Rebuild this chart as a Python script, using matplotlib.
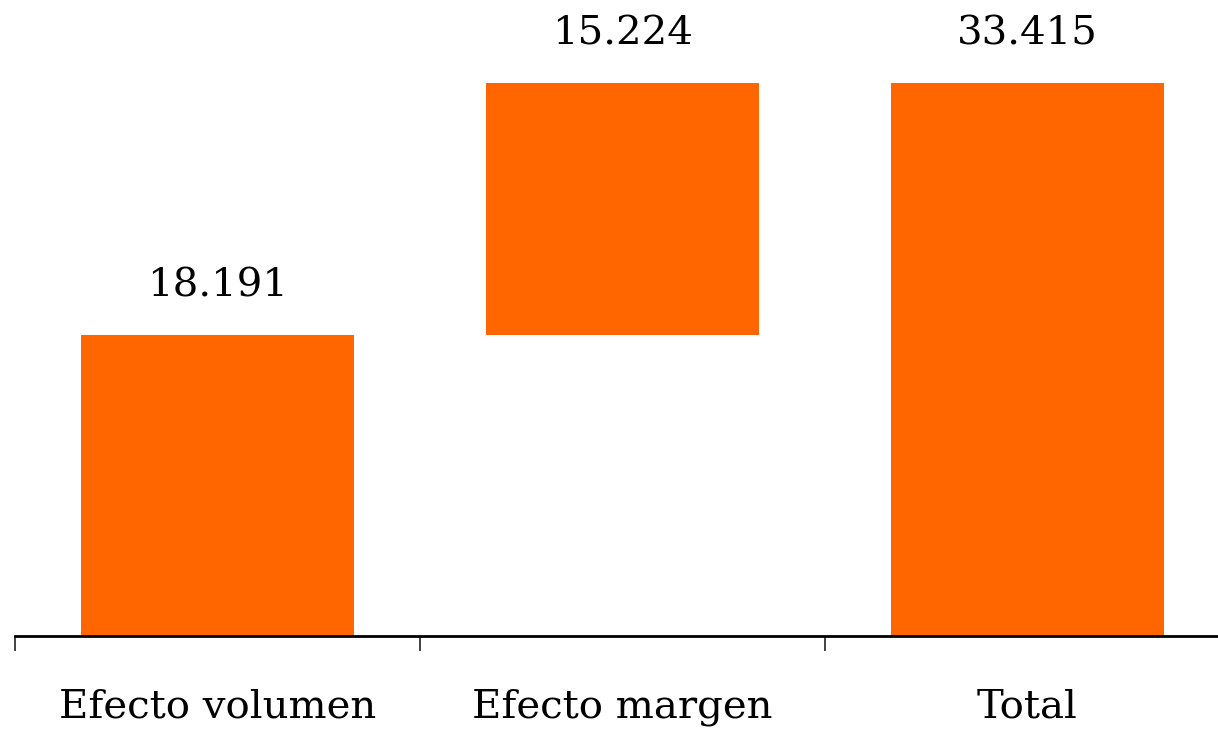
#!/usr/bin/env python3
"""Waterfall: efecto volumen + efecto margen = total."""
import matplotlib
matplotlib.use("Agg")
import matplotlib.pyplot as plt

categories = ["Efecto volumen", "Efecto margen", "Total"]
values = [18.191, 15.224, 33.415]
bottoms = [0.0, 18.191, 0.0]
value_labels = ["18.191", "15.224", "33.415"]

ORANGE = "#FF6600"

fig = plt.figure(figsize=(12.18, 7.31), dpi=100)
ax = fig.add_axes([15 / 1218, 95 / 731, 1215 / 1218, 636 / 731])

xs = list(range(len(categories)))
ax.bar(xs, values, bottom=bottoms, width=0.674, color=ORANGE)

for x, v, b, lab in zip(xs, values, bottoms, value_labels):
    ax.annotate(lab, (x, v + b), textcoords="offset points", xytext=(0, 28),
                ha="center", va="baseline", fontsize=29, family="DejaVu Serif")

ax.set_xlim(-0.5, 2.5)
ax.set_ylim(0, 38.43)

for side in ("top", "right", "left"):
    ax.spines[side].set_visible(False)
ax.spines["bottom"].set_linewidth(2)
ax.set_yticks([])

ax.set_xticks([-0.5, 0.5, 1.5])
ax.set_xticklabels([])
ax.tick_params(axis="x", which="major", length=11, width=1.3, color="#333333")
ax.set_xticks(xs, minor=True)
ax.set_xticklabels(categories, minor=True, fontsize=29, family="DejaVu Serif")
ax.tick_params(axis="x", which="minor", length=0, pad=38)

fig.savefig("out.png", dpi=100)
